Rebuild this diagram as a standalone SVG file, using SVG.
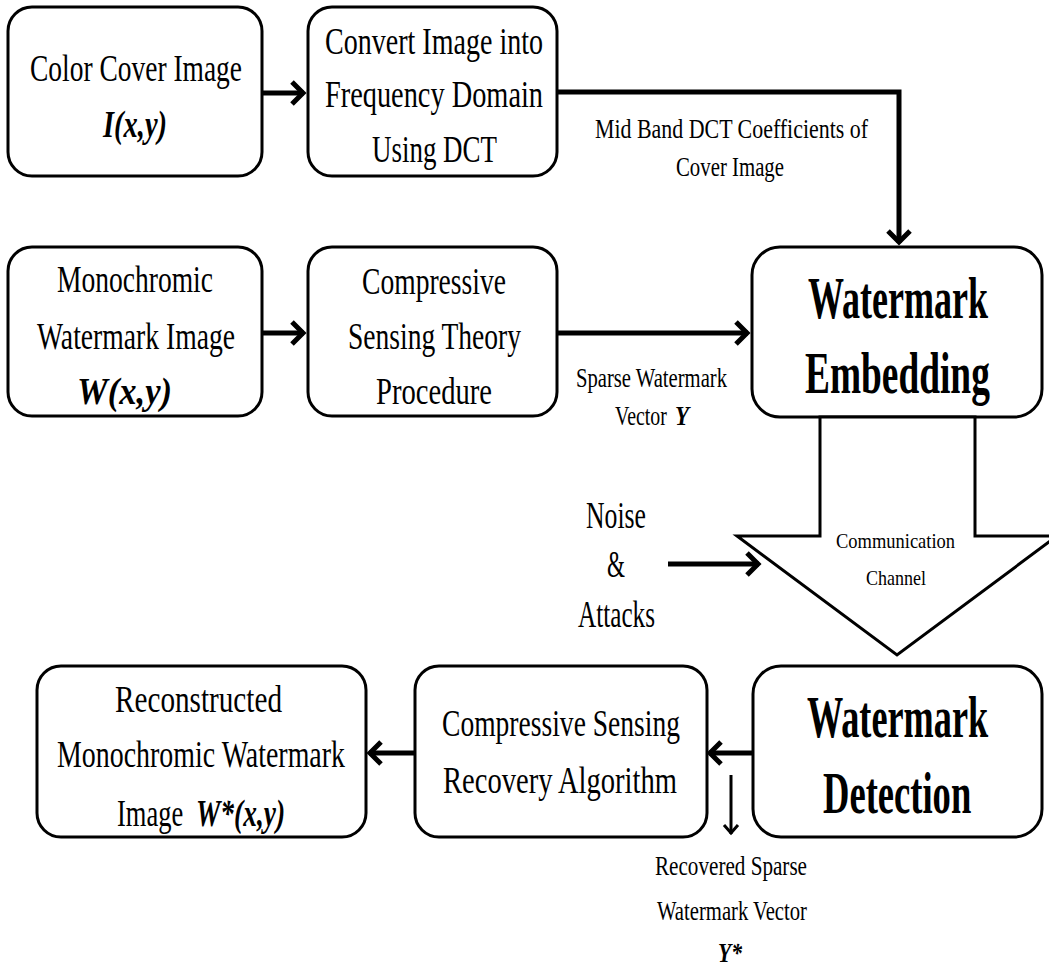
<svg xmlns="http://www.w3.org/2000/svg" width="1049" height="966" viewBox="0 0 1049 966">
<style>
.box{fill:#fff;stroke:#000;stroke-width:3}
.t{font-family:"Liberation Serif","Times New Roman",serif;font-size:38px;fill:#000}
.bi{font-weight:bold;font-style:italic}
.big{font-family:"Liberation Serif","Times New Roman",serif;font-size:60px;font-weight:bold;fill:#000}
.lbl{font-family:"Liberation Serif","Times New Roman",serif;font-size:27px;fill:#000}
.sm{font-family:"Liberation Serif","Times New Roman",serif;font-size:22px;fill:#000}
.thick{fill:none;stroke:#000;stroke-width:5}
.thin{fill:none;stroke:#000;stroke-width:3}
</style>
<defs>
<marker id="ah" markerUnits="userSpaceOnUse" markerWidth="30" markerHeight="30" viewBox="0 0 30 30" refX="27" refY="15" orient="auto" overflow="visible">
<path d="M15,4 L26,15 L15,26" fill="none" stroke="#000" stroke-width="5"/>
</marker>
<marker id="ahs" markerUnits="userSpaceOnUse" markerWidth="20" markerHeight="20" viewBox="0 0 20 20" refX="18" refY="10" orient="auto" overflow="visible">
<path d="M9,3 L17,10 L9,17" fill="none" stroke="#000" stroke-width="3"/>
</marker>
</defs>

<g id="connectors">
<path class="thick" d="M262,93 H304" marker-end="url(#ah)"/>
<path class="thick" d="M262,333 H304" marker-end="url(#ah)"/>
<path class="thick" d="M557,333 H748" marker-end="url(#ah)"/>
<path class="thick" d="M557,92 H899 V243" marker-end="url(#ah)"/>
<path class="thick" d="M668,564 H759" marker-end="url(#ah)"/>
<path class="thick" d="M753,753 H709" marker-end="url(#ah)"/>
<path class="thick" d="M415,753 H369" marker-end="url(#ah)"/>
<path class="thin" d="M731,775 V834" marker-end="url(#ahs)"/>
</g>

<g id="node-color-cover">
<rect class="box" x="8" y="7" width="254" height="169" rx="24"/>
<text class="t" x="30" y="81" textLength="212" lengthAdjust="spacingAndGlyphs">Color Cover Image</text>
<text class="t bi" x="103" y="137" textLength="64" lengthAdjust="spacingAndGlyphs">I(x,y)</text>
</g>

<g id="node-dct">
<rect class="box" x="308" y="7" width="249" height="169" rx="24"/>
<text class="t" x="325" y="54" textLength="218" lengthAdjust="spacingAndGlyphs">Convert Image into</text>
<text class="t" x="325" y="107" textLength="218" lengthAdjust="spacingAndGlyphs">Frequency Domain</text>
<text class="t" x="372" y="162" textLength="125" lengthAdjust="spacingAndGlyphs">Using DCT</text>
</g>

<g id="node-mono-watermark">
<rect class="box" x="8" y="247" width="254" height="169" rx="24"/>
<text class="t" x="57" y="292" textLength="156" lengthAdjust="spacingAndGlyphs">Monochromic</text>
<text class="t" x="37" y="349" textLength="198" lengthAdjust="spacingAndGlyphs">Watermark Image</text>
<text class="t bi" x="77" y="404" textLength="95" lengthAdjust="spacingAndGlyphs">W(x,y)</text>
</g>

<g id="node-cs-theory">
<rect class="box" x="308" y="247" width="249" height="169" rx="24"/>
<text class="t" x="362" y="294" textLength="144" lengthAdjust="spacingAndGlyphs">Compressive</text>
<text class="t" x="348" y="349" textLength="173" lengthAdjust="spacingAndGlyphs">Sensing Theory</text>
<text class="t" x="376" y="404" textLength="116" lengthAdjust="spacingAndGlyphs">Procedure</text>
</g>

<g id="node-embedding">
<rect class="box" x="752" y="247" width="290" height="170" rx="28"/>
<text class="big" transform="translate(808,318) scale(0.61,1)" x="0" y="0" textLength="295" lengthAdjust="spacingAndGlyphs">Watermark</text>
<text class="big" transform="translate(805,393) scale(0.61,1)" x="0" y="0" textLength="303" lengthAdjust="spacingAndGlyphs">Embedding</text>
</g>

<g id="node-channel">
<polygon class="thin" style="fill:#fff" points="820,417 820,536 737,536 897,655 1057,536 975,536 975,417"/>
<text class="sm" x="836" y="548" textLength="119" lengthAdjust="spacingAndGlyphs">Communication</text>
<text class="sm" x="866" y="585" textLength="60" lengthAdjust="spacingAndGlyphs">Channel</text>
</g>

<g id="node-noise">
<text class="t" x="586" y="528" textLength="60" lengthAdjust="spacingAndGlyphs">Noise</text>
<text class="t" x="607" y="577" textLength="18" lengthAdjust="spacingAndGlyphs">&amp;</text>
<text class="t" x="578" y="627" textLength="77" lengthAdjust="spacingAndGlyphs">Attacks</text>
</g>

<g id="node-detection">
<rect class="box" x="753" y="666" width="289" height="171" rx="28"/>
<text class="big" transform="translate(807,737) scale(0.61,1)" x="0" y="0" textLength="297" lengthAdjust="spacingAndGlyphs">Watermark</text>
<text class="big" transform="translate(823,813) scale(0.61,1)" x="0" y="0" textLength="243" lengthAdjust="spacingAndGlyphs">Detection</text>
</g>

<g id="node-cs-recovery">
<rect class="box" x="415" y="666" width="292" height="171" rx="24"/>
<text class="t" x="442" y="736" textLength="238" lengthAdjust="spacingAndGlyphs">Compressive Sensing</text>
<text class="t" x="443" y="793" textLength="234" lengthAdjust="spacingAndGlyphs">Recovery Algorithm</text>
</g>

<g id="node-reconstructed">
<rect class="box" x="37" y="666" width="329" height="171" rx="24"/>
<text class="t" x="115" y="712" textLength="167" lengthAdjust="spacingAndGlyphs">Reconstructed</text>
<text class="t" x="57" y="767" textLength="288" lengthAdjust="spacingAndGlyphs">Monochromic Watermark</text>
<text class="t" transform="translate(117,826) scale(0.69,1)" x="0" y="0" textLength="96" lengthAdjust="spacingAndGlyphs">Image</text>
<text class="t bi" transform="translate(196,826) scale(0.65,1)" x="0" y="0" textLength="137" lengthAdjust="spacingAndGlyphs">W*(x,y)</text>
</g>

<g id="labels">
<text class="lbl" x="595" y="138" textLength="273" lengthAdjust="spacingAndGlyphs">Mid Band DCT Coefficients  of</text>
<text class="lbl" x="676" y="176" textLength="108" lengthAdjust="spacingAndGlyphs">Cover Image</text>
<text class="lbl" x="576" y="387" textLength="151" lengthAdjust="spacingAndGlyphs">Sparse Watermark</text>
<text class="lbl" transform="translate(615,425) scale(0.71,1)" x="0" y="0" textLength="73" lengthAdjust="spacingAndGlyphs">Vector</text>
<text class="lbl bi" transform="translate(675,425) scale(0.78,1)" x="0" y="0" textLength="18" lengthAdjust="spacingAndGlyphs">Y</text>
<text class="lbl" x="655" y="875" textLength="152" lengthAdjust="spacingAndGlyphs">Recovered  Sparse</text>
<text class="lbl" x="657" y="920" textLength="150" lengthAdjust="spacingAndGlyphs">Watermark  Vector</text>
<text class="lbl bi" x="718" y="962" textLength="24" lengthAdjust="spacingAndGlyphs">Y*</text>
</g>
</svg>
